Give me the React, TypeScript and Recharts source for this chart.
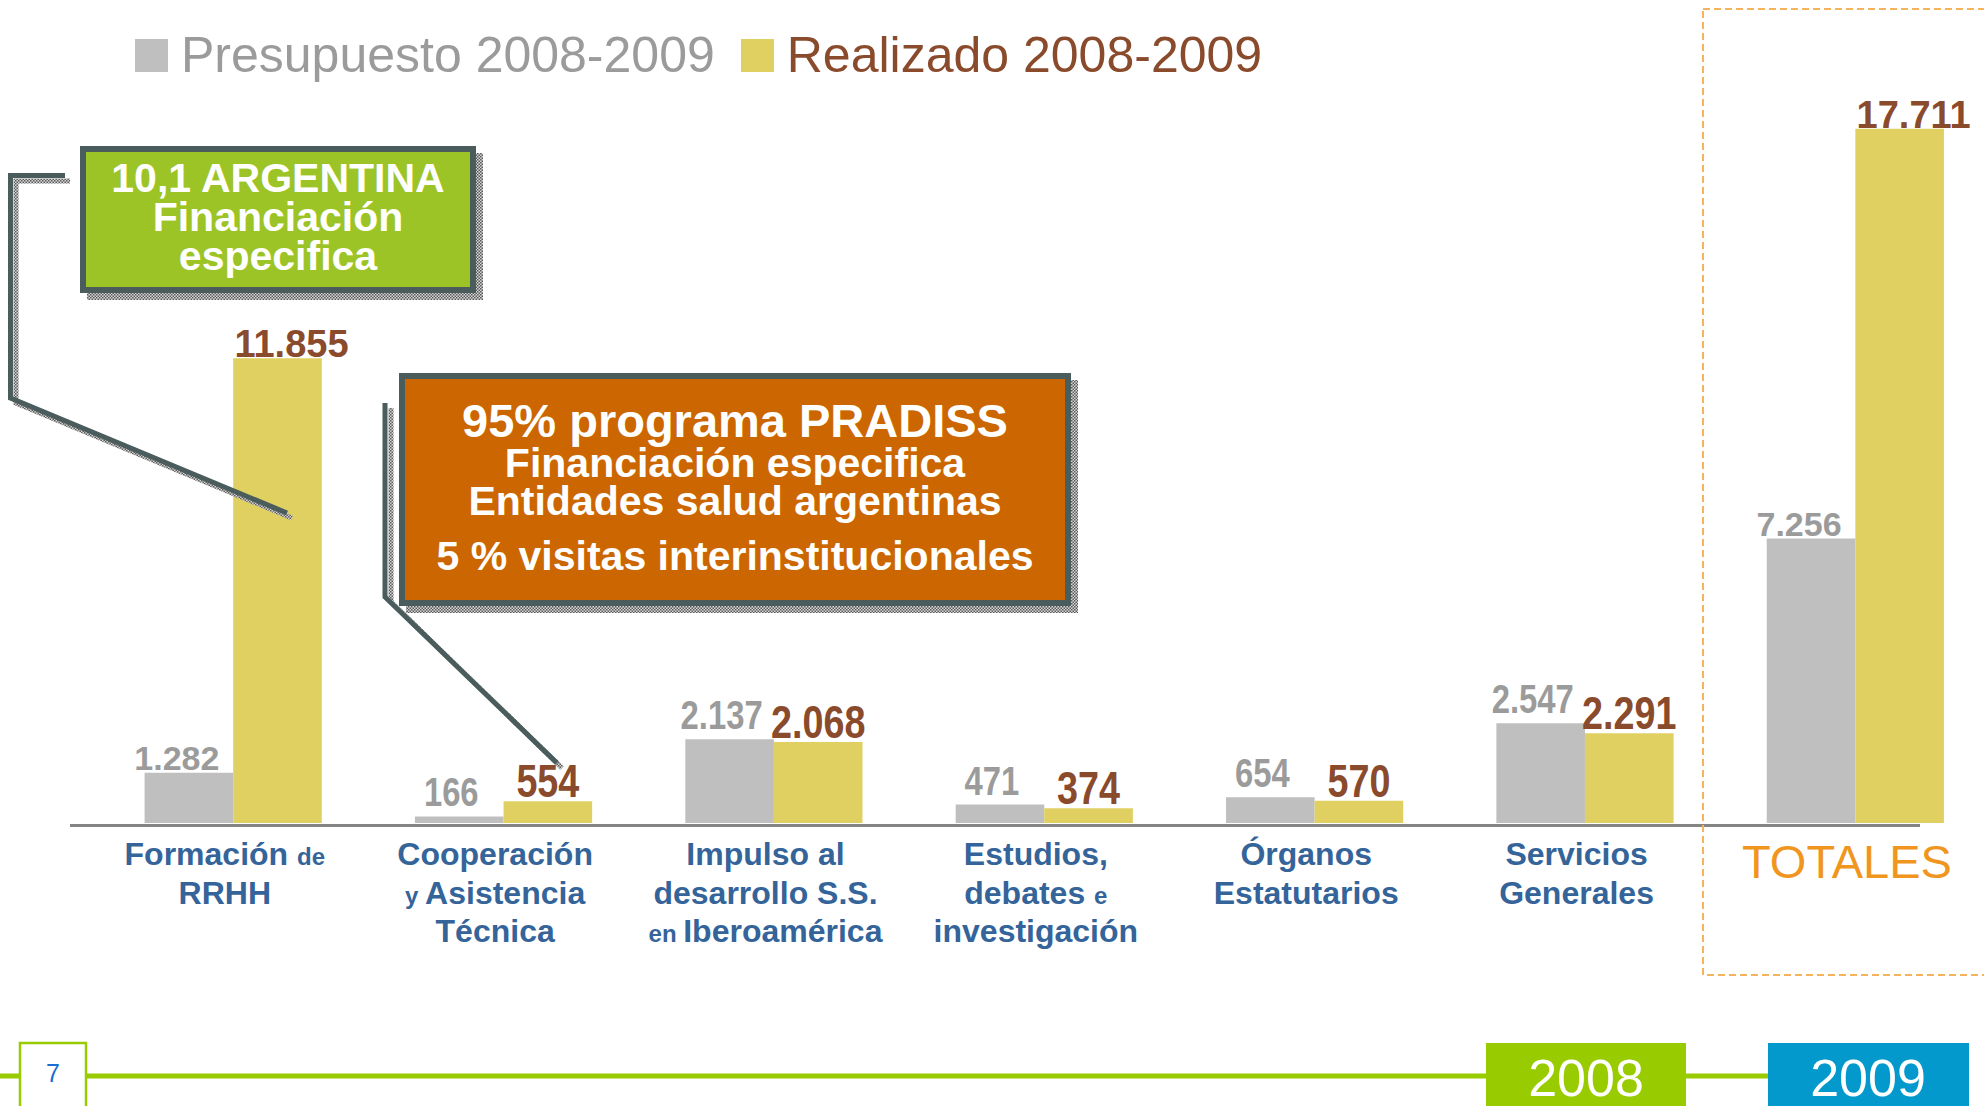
import { Bar, BarChart, LabelList, Legend, XAxis, YAxis } from "recharts";

const CATEGORIES = [
  "Formación de\nRRHH",
  "Cooperación\ny Asistencia\nTécnica",
  "Impulso al\ndesarrollo S.S.\nen Iberoamérica",
  "Estudios,\ndebates e\ninvestigación",
  "Órganos\nEstatutarios",
  "Servicios\nGenerales",
  "TOTALES",
];
const PRESUPUESTO = [1282, 166, 2137, 471, 654, 2547, 7256];
const REALIZADO = [11855, 554, 2068, 374, 570, 2291, 17711];
const SERIES = ["Presupuesto 2008-2009", "Realizado 2008-2009"];
const SMALL_WORDS = ["de", "y", "e", "en"];

const data = CATEGORIES.map((name, i) => ({
  name,
  presupuesto: PRESUPUESTO[i],
  realizado: REALIZADO[i],
}));

const SANS = "'Liberation Sans', Arial, sans-serif";
const NARROW = "'Liberation Sans Narrow', 'Arial Narrow', 'Liberation Sans', sans-serif";
const GRAY = "#bfbfbf";
const YELLOW = "#e0d062";
const BROWN = "#8a4a2c";
const LABEL_GRAY = "#9b9b9b";
const BLUE = "#346499";
const ORANGE = "#f0961e";
const SLATE = "#4a5c5c";
const LIME = "#99cc00";

const fmt = (v: number) => String(v).replace(/\B(?=(\d{3})+(?!\d))/g, ".");
// width of a string in Arial Narrow Bold metrics
const narrowWidth = (s: string, size: number) =>
  [...s].reduce((w, ch) => w + (ch === "." ? 0.228 : 0.456), 0) * size;

function ValueLabel(props: any) {
  const { value, index, kind } = props;
  const vb = props.viewBox ?? {};
  const x = Number(props.x ?? vb.x);
  const y = Number(props.y ?? vb.y);
  const width = Number(props.width ?? vb.width);
  const cx = x + width / 2;
  const text = fmt(Number(value));
  const wide = index === 0 || index === CATEGORIES.length - 1;
  if (kind === "p") {
    if (wide)
      return (
        <text x={cx - 12} y={y - 3} textAnchor="middle" fontFamily={SANS} fontWeight={700} fontSize={34} fill={LABEL_GRAY}>
          {text}
        </text>
      );
    return (
      <text
        x={cx - 8}
        y={y - 10}
        textAnchor="middle"
        fontFamily={NARROW}
        fontWeight={700}
        fontSize={40}
        fill={LABEL_GRAY}
        textLength={narrowWidth(text, 40)}
        lengthAdjust="spacingAndGlyphs"
      >
        {text}
      </text>
    );
  }
  if (wide)
    return (
      <text x={cx + 14} y={y - 1} textAnchor="middle" fontFamily={SANS} fontWeight={700} fontSize={38} fill={BROWN}>
        {text}
      </text>
    );
  return (
    <text
      x={cx}
      y={y - 4}
      textAnchor="middle"
      fontFamily={NARROW}
      fontWeight={700}
      fontSize={46}
      fill={BROWN}
      textLength={narrowWidth(text, 46)}
      lengthAdjust="spacingAndGlyphs"
    >
      {text}
    </text>
  );
}

function CategoryTick({ x, y, payload }: any) {
  const label: string = payload.value;
  if (label === "TOTALES")
    return (
      <text x={x - 8} y={y + 55} textAnchor="middle" fontFamily={SANS} fontSize={47} fill={ORANGE}>
        {label}
      </text>
    );
  const lines = label.split("\n");
  return (
    <g>
      {lines.map((line, i) => {
        const words = line.split(" ");
        return (
          <text key={i} x={x - 8} y={y + 42 + i * 38.5} textAnchor="middle" fontFamily={SANS} fontWeight={700} fill={BLUE}>
            {words.map((w, j) => (
              <tspan key={j} fontSize={SMALL_WORDS.includes(w) ? 24 : 32}>
                {w}
                {j < words.length - 1 ? " " : ""}
              </tspan>
            ))}
          </text>
        );
      })}
    </g>
  );
}

function LegendContent({ payload }: any) {
  const textColors = [LABEL_GRAY, BROWN];
  return (
    <div
      style={{
        display: "flex",
        alignItems: "baseline",
        gap: 26,
        fontFamily: SANS,
        fontSize: 50,
        lineHeight: "50px",
        whiteSpace: "nowrap",
      }}
    >
      {(payload ?? []).map((entry: any, i: number) => (
        <div key={i} style={{ display: "flex", alignItems: "baseline" }}>
          <span style={{ display: "inline-block", width: 33, height: 33, background: entry.color, marginRight: 13 }} />
          <span style={{ color: textColors[i] }}>{entry.value}</span>
        </div>
      ))}
    </div>
  );
}

function Overlay() {
  return (
    <svg width={1984} height={1106} style={{ position: "absolute", left: 0, top: 0, pointerEvents: "none" }}>
      <defs>
        <pattern id="halftone" width="3" height="3" patternUnits="userSpaceOnUse">
          <rect width="3" height="3" fill="#d6d6d6" />
          <rect width="1.5" height="1.5" fill="#5a5a5a" />
          <rect x="1.5" y="1.5" width="1.5" height="1.5" fill="#5a5a5a" />
        </pattern>
      </defs>

      {/* category axis */}
      <line x1={70} x2={1920} y1={825.5} y2={825.5} stroke="#858585" strokeWidth={3} />

      {/* totals frame */}
      <rect x={1703} y={9} width={320} height={966} fill="none" stroke="#f6b35e" strokeWidth={2} strokeDasharray="7 4" />

      {/* green note */}
      <polyline points="70,181 16,181 16,403 292,518" fill="none" stroke="url(#halftone)" strokeWidth={5} />
      <polyline points="65,175.5 10.5,175.5 10.5,398 287,513" fill="none" stroke={SLATE} strokeWidth={5} />
      <rect x={87} y={153} width={396} height={147} fill="url(#halftone)" />
      <rect x={83} y={149} width={390} height={141} fill="#9dc426" stroke={SLATE} strokeWidth={6} />
      <g fontFamily={SANS} fontWeight={700} fontSize={41} fill="#fff" textAnchor="middle">
        <text x={278} y={192}>10,1 ARGENTINA</text>
        <text x={278} y={231}>Financiación</text>
        <text x={278} y={270}>especifica</text>
      </g>

      {/* orange note */}
      <polyline points="391,408 391,602 562,768" fill="none" stroke="url(#halftone)" strokeWidth={5} />
      <polyline points="385,403 385,597 557,763" fill="none" stroke={SLATE} strokeWidth={5} />
      <rect x={406} y={380} width={672} height={233} fill="url(#halftone)" />
      <rect x={402} y={376} width={666} height={227} fill="#cc6600" stroke={SLATE} strokeWidth={6} />
      <g fontFamily={SANS} fontWeight={700} fill="#fff" textAnchor="middle">
        <text x={735} y={437} fontSize={47}>95% programa PRADISS</text>
        <text x={735} y={477} fontSize={41}>Financiación especifica</text>
        <text x={735} y={515} fontSize={41}>Entidades salud argentinas</text>
        <text x={735} y={570} fontSize={41}>5 % visitas interinstitucionales</text>
      </g>

      {/* footer */}
      <line x1={0} x2={1969} y1={1076} y2={1076} stroke={LIME} strokeWidth={5} />
      <rect x={20} y={1043} width={66} height={80} fill="#fff" stroke={LIME} strokeWidth={2.5} />
      <text x={53} y={1082} textAnchor="middle" fontFamily={SANS} fontSize={25} fill="#1c6dd0">7</text>
      <rect x={1486} y={1043} width={200} height={63} fill={LIME} />
      <text x={1586} y={1096} textAnchor="middle" fontFamily={SANS} fontSize={52} fill="#fff">2008</text>
      <rect x={1768} y={1043} width={201} height={63} fill="#0399cc" />
      <text x={1868} y={1096} textAnchor="middle" fontFamily={SANS} fontSize={52} fill="#fff">2009</text>
    </svg>
  );
}

export default function App() {
  return (
    <div style={{ position: "absolute", left: 0, top: 0, width: 1984, height: 1106, overflow: "hidden", background: "#fff" }}>
      <BarChart
        width={2000}
        height={1106}
        data={data}
        margin={{ top: 117.4, right: 9.9, bottom: 0, left: 97.6 }}
        barGap={0}
        barSize={88.6}
      >
        <XAxis
          dataKey="name"
          height={283}
          interval={0}
          axisLine={false}
          tickLine={false}
          tickSize={0}
          tickMargin={0}
          tick={<CategoryTick />}
        />
        <YAxis hide domain={[0, 18000]} />
        <Legend
          layout="horizontal"
          verticalAlign="middle"
          align="center"
          content={<LegendContent />}
          wrapperStyle={{ top: 30, left: 135, width: "auto" }}
        />
        <Bar dataKey="presupuesto" name={SERIES[0]} fill={GRAY} isAnimationActive={false}>
          <LabelList dataKey="presupuesto" content={<ValueLabel kind="p" />} />
        </Bar>
        <Bar dataKey="realizado" name={SERIES[1]} fill={YELLOW} isAnimationActive={false}>
          <LabelList dataKey="realizado" content={<ValueLabel kind="r" />} />
        </Bar>
      </BarChart>
      <Overlay />
    </div>
  );
}
